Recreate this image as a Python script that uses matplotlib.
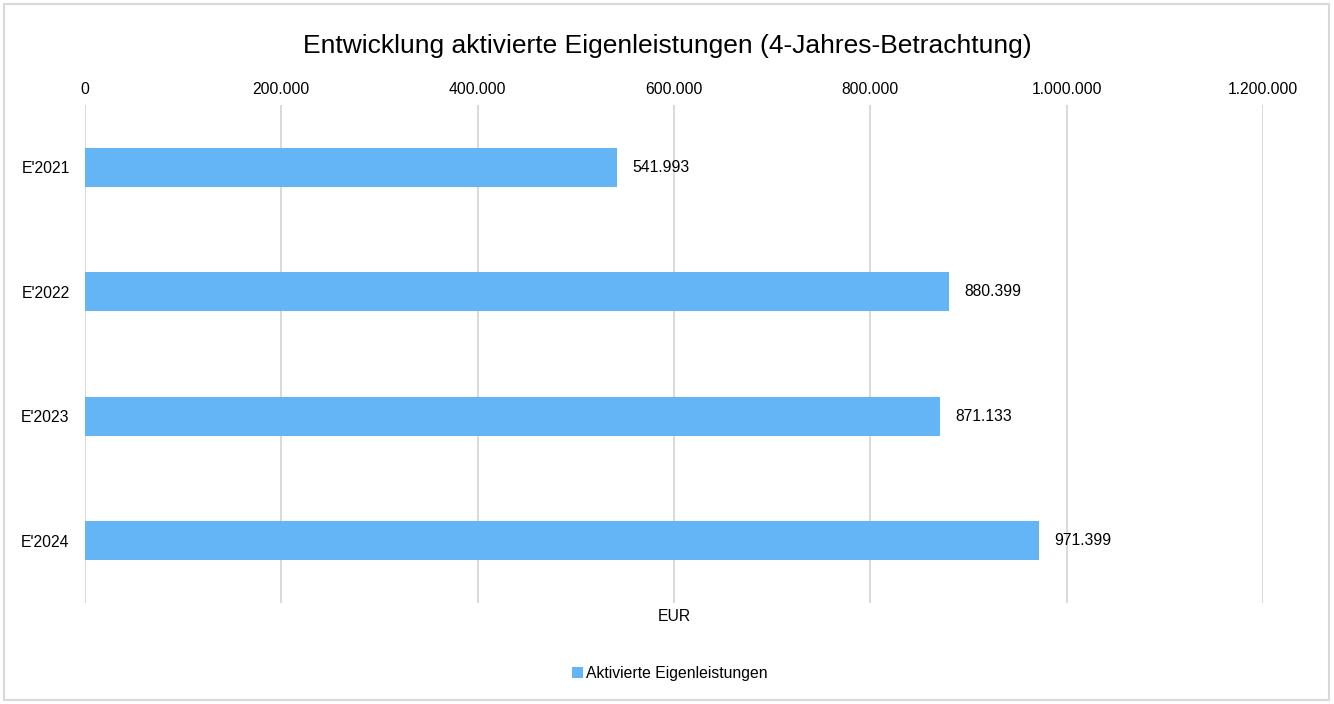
import matplotlib.pyplot as plt
from matplotlib.patches import Rectangle

plt.rcParams['font.family'] = ['Liberation Sans', 'DejaVu Sans']

categories = ["E'2021", "E'2022", "E'2023", "E'2024"]
values = [541993, 880399, 871133, 971399]
xticks = [0, 200000, 400000, 600000, 800000, 1000000, 1200000]
series_name = 'Aktivierte Eigenleistungen'
bar_color = '#64B5F6'
grid_color = '#d9d9d9'


def de_fmt(v):
    return f'{v:,.0f}'.replace(',', '.')


fig = plt.figure(figsize=(13.34, 7.04), dpi=100)
ax = fig.add_axes([0.0637, 0.1435, 0.8831, 0.7074])

ypos = list(range(len(categories)))
bars = ax.barh(ypos, values, height=0.31, color=bar_color, label=series_name, zorder=3)
for y, v in zip(ypos, values):
    ax.annotate(de_fmt(v), (v, y), xytext=(11, 0), textcoords='offset points',
                va='center', ha='left', fontsize=11.3, color='#000000')

ax.set_ylim(3.5, -0.5)
ax.set_yticks(ypos)
ax.set_yticklabels(categories, fontsize=11.3)
ax.set_xlim(0, 1200000)
ax.set_xticks(xticks)
ax.set_xticklabels([de_fmt(t) for t in xticks], fontsize=11.3)
ax.xaxis.tick_top()
ax.tick_params(axis='x', length=0, pad=6)
ax.tick_params(axis='y', length=0, pad=11)
ax.grid(axis='x', color=grid_color, linewidth=1.4, zorder=0)
for s in ax.spines.values():
    s.set_visible(False)

ax.set_xlabel('EUR', fontsize=11.3, labelpad=4)

fig.text(0.5, 0.934, 'Entwicklung aktivierte Eigenleistungen (4-Jahres-Betrachtung)',
         ha='center', va='center', fontsize=19)

fig.legend(handles=[bars], labels=[series_name], loc='center', bbox_to_anchor=(0.502, 0.043),
           frameon=False, fontsize=11.3, handlelength=0.7, handleheight=0.7,
           handletextpad=0.2)

fig.patches.append(Rectangle((0.003, 0.006), 0.993, 0.988, transform=fig.transFigure,
                             fill=False, edgecolor=grid_color, linewidth=1.5))

fig.savefig('out.png', dpi=100, facecolor='white')
